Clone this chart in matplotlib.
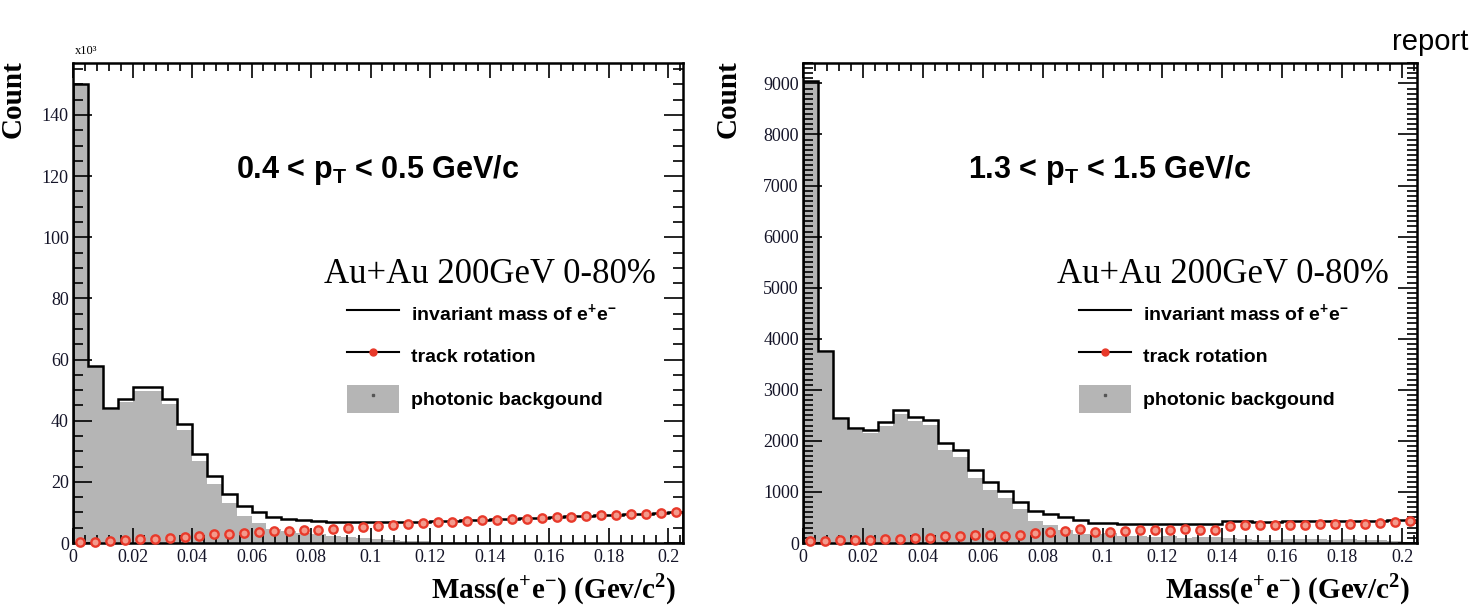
import matplotlib
matplotlib.use("Agg")
import matplotlib.pyplot as plt
from matplotlib.ticker import MultipleLocator, FuncFormatter
from matplotlib.lines import Line2D
from matplotlib.patches import Patch
import numpy as np

# binning of the e+e- pair mass histograms (GeV/c^2)
bin_width = 0.005
n_bins = 41

# 0.4 < pT < 0.5 GeV/c  (counts x10^3)
low_pt_invmass = [150, 58, 44, 47, 51, 51, 47, 39, 29, 22, 16, 12, 10, 8.5, 8.0, 7.5,
                  7.2, 7.0, 6.9, 6.8, 6.8, 6.8, 6.9, 7.0, 7.1, 7.3, 7.4, 7.6, 7.8, 7.9,
                  8.1, 8.3, 8.5, 8.7, 8.9, 9.1, 9.3, 9.4, 9.6, 9.8, 10.0]
low_pt_rotation = [0.3, 0.4, 0.6, 0.9, 1.2, 1.4, 1.6, 2.0, 2.3, 2.8, 3.0, 3.3, 3.6, 3.8,
                   4.0, 4.2, 4.4, 4.6, 4.9, 5.2, 5.6, 5.9, 6.2, 6.5, 6.8, 7.0, 7.2, 7.4,
                   7.6, 7.8, 8.0, 8.2, 8.4, 8.6, 8.8, 9.0, 9.2, 9.4, 9.6, 9.8, 10.0]
low_pt_photonic = [149.7, 57.6, 43.4, 46.1, 49.8, 49.6, 45.4, 37.0, 26.7, 19.2, 13.0, 8.7,
                   6.4, 4.7, 4.0, 3.3, 2.8, 2.4, 2.0, 1.6, 1.2, 0.9, 0.7, 0.5, 0.3, 0.3,
                   0.2, 0.2, 0.2, 0.1, 0.1, 0.1, 0.1, 0.1, 0.1, 0.1, 0.1, 0.0, 0.0, 0.0, 0.0]

# 1.3 < pT < 1.5 GeV/c
high_pt_invmass = [9050, 3760, 2450, 2260, 2220, 2370, 2600, 2470, 2410, 1960, 1820, 1430,
                   1190, 1020, 810, 630, 570, 500, 450, 400, 400, 380, 380, 380, 380, 370,
                   370, 370, 430, 430, 420, 420, 430, 430, 440, 430, 440, 430, 440, 450, 450]
high_pt_rotation = [40, 45, 50, 55, 60, 70, 80, 90, 95, 140, 145, 150, 150, 145, 150, 190,
                    210, 240, 270, 220, 210, 240, 250, 260, 250, 270, 260, 250, 330, 350,
                    360, 360, 350, 360, 370, 380, 370, 380, 390, 420, 430]
high_pt_photonic = [9010, 3715, 2400, 2205, 2160, 2300, 2520, 2380, 2315, 1820, 1675, 1280,
                    1040, 875, 660, 440, 360, 260, 180, 180, 190, 140, 130, 120, 130, 100,
                    110, 120, 100, 80, 60, 60, 80, 70, 70, 50, 70, 50, 50, 30, 20]

W, H = 1472, 607
plt.rcParams['mathtext.fontset'] = 'custom'
plt.rcParams['mathtext.rm'] = 'Liberation Sans:bold'
plt.rcParams['mathtext.it'] = 'Liberation Sans:bold'
plt.rcParams['mathtext.bf'] = 'Liberation Serif:bold'

SERIF = ['Liberation Serif', 'DejaVu Serif']
SANS = ['Liberation Sans', 'DejaVu Sans']
GRAY = '#b5b5b5'
RED = '#e8392a'

edges = np.arange(n_bins + 1) * bin_width
centers = edges[:-1] + bin_width / 2

fig = plt.figure(figsize=(W / 100, H / 100), dpi=100)
ax1 = fig.add_axes([73 / W, 64 / H, 610 / W, 480 / H])
ax2 = fig.add_axes([803 / W, 64 / H, 614 / W, 480 / H])


def draw_panel(ax, invmass, rotation, photonic, ymax, ymajor, yminor, pt_text, ylab_x):
    ax.stairs(photonic, edges, fill=True, color=GRAY, lw=0, zorder=1)
    ax.stairs(invmass, edges, color='black', lw=1.8, zorder=2)
    ax.plot(centers, rotation, 'o', ms=6, mfc='#f39a8c', mec=RED, mew=1.7,
            ls='none', zorder=3, clip_on=False)

    ax.set_xlim(0, edges[-1])
    ax.set_ylim(0, ymax)
    ax.xaxis.set_major_locator(MultipleLocator(0.02))
    ax.xaxis.set_minor_locator(MultipleLocator(0.004))
    ax.xaxis.set_major_formatter(FuncFormatter(lambda v, p: format(round(v, 3), 'g')))
    ax.yaxis.set_major_locator(MultipleLocator(ymajor))
    ax.yaxis.set_minor_locator(MultipleLocator(yminor))

    ax.tick_params(which='both', direction='in', top=True, right=True, width=1.2,
                   colors='black', labelcolor='#141428')
    ax.tick_params(axis='x', which='major', length=11, pad=4)
    ax.tick_params(axis='x', which='minor', length=5.5)
    ax.tick_params(axis='y', which='major', length=14, pad=3)
    ax.tick_params(axis='y', which='minor', length=7)
    for lab in ax.get_xticklabels() + ax.get_yticklabels():
        lab.set_fontfamily(SERIF)
        lab.set_fontsize(13)
    for s in ax.spines.values():
        s.set_linewidth(1.8)

    ax.set_xlabel(r'Mass(e$^{\mathbf{+}}$e$^{\mathbf{-}}$) (Gev/c$^{\mathbf{2}}$)',
                  family=SERIF, fontsize=21, fontweight='bold', ha='right', va='baseline')
    ax.xaxis.set_label_coords(0.989, -0.114)
    ax.set_ylabel('Count', family=SERIF, fontsize=21, fontweight='bold',
                  ha='right', va='center')
    ax.yaxis.set_label_coords(ylab_x, 1.006)

    ax.text(0.268, 0.760, pt_text, transform=ax.transAxes, family=SANS,
            fontsize=22, fontweight='bold', ha='left', va='baseline')
    ax.text(0.955, 0.542, 'Au+Au 200GeV 0-80%', transform=ax.transAxes, family=SERIF,
            fontsize=25, ha='right', va='baseline')

    handles = [Line2D([], [], color='black', lw=1.5),
               Line2D([], [], color='black', lw=1.5, marker='o', ms=5, mfc=RED, mec=RED),
               (Patch(facecolor=GRAY, lw=0),
                Line2D([], [], marker='s', ms=2, color='#555555', ls='none'))]
    labels = [r'invariant mass of e$^{+}$e$^{-}$', 'track rotation', 'photonic backgound']
    ax.legend(handles, labels, loc='upper left', bbox_to_anchor=(0.449, 0.507),
              frameon=False, borderpad=0, borderaxespad=0, handlelength=2.7,
              handleheight=1.8, handletextpad=0.6, labelspacing=0.78,
              prop={'family': SANS, 'size': 14, 'weight': 'bold'})


draw_panel(ax1, low_pt_invmass, low_pt_rotation, low_pt_photonic, 157, 20, 5,
           r'0.4 < p$_\mathrm{T}$ < 0.5 GeV/c', -0.098)
draw_panel(ax2, high_pt_invmass, high_pt_rotation, high_pt_photonic, 9400, 1000, 100,
           r'1.3 < p$_\mathrm{T}$ < 1.5 GeV/c', -0.122)

ax1.text(0.003, 1.012, 'x10³', transform=ax1.transAxes, family=SERIF, fontsize=9,
         ha='left', va='bottom')

fig.text(1392 / W, 1 - 50 / H, 'report', family=SANS, fontsize=21, ha='left',
         va='baseline')

fig.savefig('out.png', dpi=100)
